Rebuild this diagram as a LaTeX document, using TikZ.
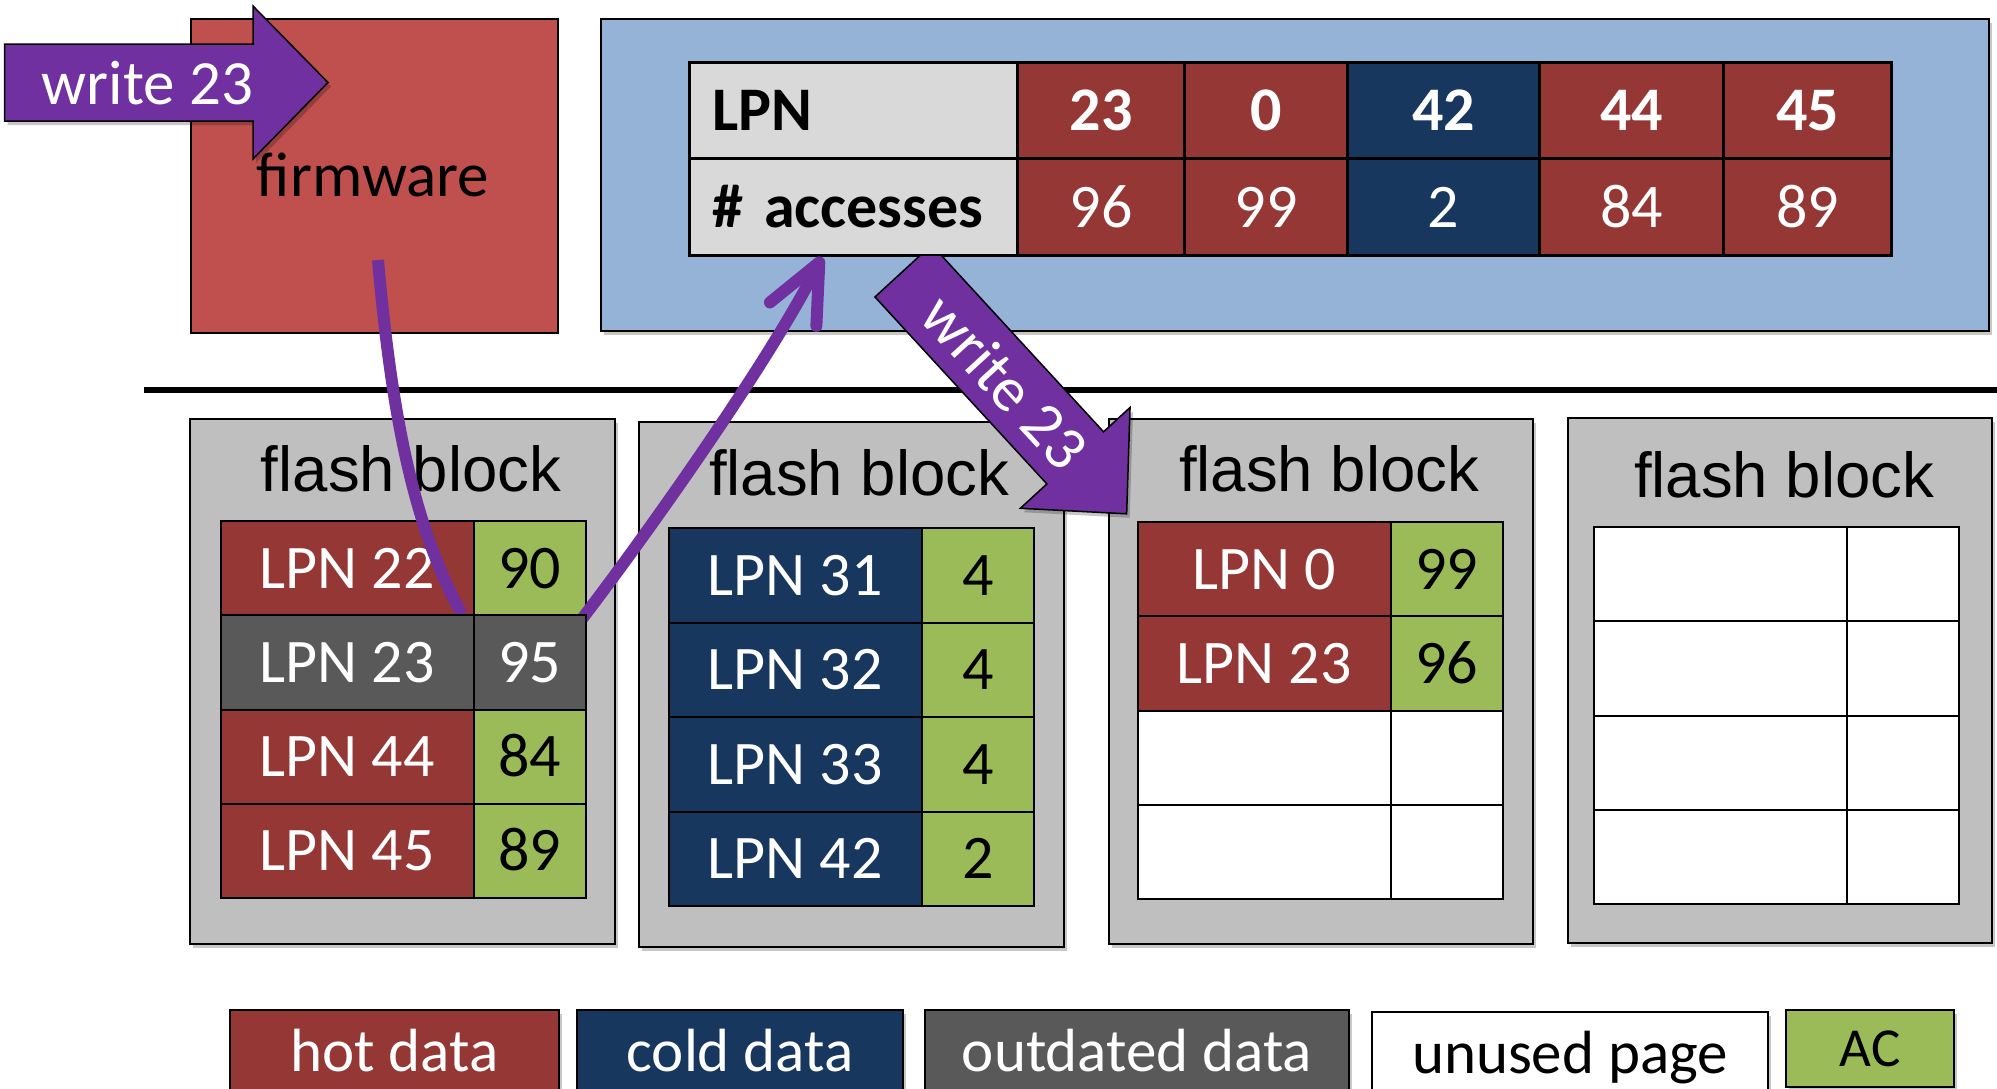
\documentclass[tikz,border=0pt]{standalone}
\usepackage{fontspec}
\setmainfont{Carlito}
\newfontfamily\arialf{Liberation Sans}
\usetikzlibrary{shadows,arrows.meta,calc}
\pgfdeclarelayer{front}
\pgfsetlayers{main,front}
\definecolor{fwred}{HTML}{C0504D}
\definecolor{lblue}{HTML}{95B3D7}
\definecolor{hgray}{HTML}{D9D9D9}
\definecolor{hot}{HTML}{953735}
\definecolor{cold}{HTML}{17375E}
\definecolor{old}{HTML}{595959}
\definecolor{acg}{HTML}{9BBB59}
\definecolor{fbg}{HTML}{BFBFBF}
\definecolor{purp}{HTML}{7030A0}
\newcommand\fsBig{\fontsize{63}{70}\selectfont}
\newcommand\fsCell{\fontsize{62}{70}\selectfont}
\newcommand\fsLeg{\fontsize{61}{70}\selectfont}
\newcommand\fsFlash{\arialf\fontsize{63.5}{70}\selectfont}
\tikzset{
  shad/.style={drop shadow={shadow xshift=3pt,shadow yshift=-4pt,opacity=0.22,fill=black}},
  bigbox/.style={draw=black,line width=2pt,anchor=north west,inner sep=0pt},
  fblock/.style={bigbox,fill=fbg,minimum width=425pt,minimum height=525pt,shad},
  flabel/.style={anchor=base,font=\fsFlash},
  cell/.style={draw=black,line width=2pt,anchor=north west,inner sep=0pt,
    minimum height=94.25pt,text height=40pt,text depth=0pt,font=\fsCell},
  lpn/.style={cell,minimum width=252.5pt,text=white},
  acc/.style={cell,minimum width=112.5pt,fill=acg,text=black},
  emptyl/.style={cell,minimum width=252.5pt,fill=white},
  emptya/.style={cell,minimum width=112.5pt,fill=white},
  thead/.style={draw=black,line width=3pt,anchor=north west,fill=hgray,
    minimum width=328pt,text width=282pt,inner xsep=23pt,inner ysep=0pt,
    align=left,text height=40pt,text depth=0pt,font=\fsCell\bfseries},
  tnum/.style={draw=black,line width=3pt,anchor=north west,inner sep=0pt,
    text=white,text height=40pt,text depth=0pt,font=\fsCell},
  legbox/.style={draw=black,line width=2pt,anchor=north west,inner sep=0pt,
    minimum height=81pt,text height=42pt,text depth=0pt,font=\fsLeg,shad},
  arrowbody/.style={fill=purp,draw=black,line width=1.5pt},
  purpline/.style={draw=purp,line width=12pt},
}
\begin{document}
\begin{tikzpicture}[x=1pt,y=-1pt]
\useasboundingbox (0,0) rectangle (1997,1088);
\clip (0,0) rectangle (1997,1088);
\fill[white] (0,0) rectangle (1997,1088);

% firmware box
\node[bigbox,fill=fwred,minimum width=367pt,minimum height=314pt] (fw) at (190,18) {};
\node[anchor=base,font=\fsBig] (fwl) at (373,196) {firmware};

% memory box
\node[bigbox,fill=lblue,minimum width=1388pt,minimum height=312pt,shad] (mem) at (600,18) {};

% table
\node[thead,minimum height=96pt] (hl) at (688,61) {LPN};
\node[thead,minimum height=97pt] (ha) at (688,157) {\# accesses};
\node[tnum,fill=hot,minimum width=167pt,minimum height=96pt,font=\fsCell\bfseries] (t1a) at (1016,61) {23};
\node[tnum,fill=hot,minimum width=163pt,minimum height=96pt,font=\fsCell\bfseries] (t2a) at (1183,61) {0};
\node[tnum,fill=cold,minimum width=192pt,minimum height=96pt,font=\fsCell\bfseries] (t3a) at (1346,61) {42};
\node[tnum,fill=hot,minimum width=184pt,minimum height=96pt,font=\fsCell\bfseries] (t4a) at (1538,61) {44};
\node[tnum,fill=hot,minimum width=168pt,minimum height=96pt,font=\fsCell\bfseries] (t5a) at (1722,61) {45};
\node[tnum,fill=hot,minimum width=167pt,minimum height=97pt] (t1b) at (1016,157) {96};
\node[tnum,fill=hot,minimum width=163pt,minimum height=97pt] (t2b) at (1183,157) {99};
\node[tnum,fill=cold,minimum width=192pt,minimum height=97pt] (t3b) at (1346,157) {2};
\node[tnum,fill=hot,minimum width=184pt,minimum height=97pt] (t4b) at (1538,157) {84};
\node[tnum,fill=hot,minimum width=168pt,minimum height=97pt] (t5b) at (1722,157) {89};

% horizontal write arrow
\filldraw[arrowbody,shad] (4.6,44) -- (253,44) -- (253,6) -- (328,82.5) -- (253,159) -- (253,121) -- (4.6,121) -- cycle;
\node[anchor=base,text=white,font=\fsBig] (w1) at (147.5,104) {write 23};

% separator line
\coordinate (sepL) at (144,390);
\coordinate (sepR) at (1997,390);
\draw[line width=6pt] (sepL) -- (sepR);

% flash blocks
\node[fblock] (b1) at (189,418) {};
\node[fblock] (b2) at (638,421) {};
\node[fblock,minimum width=424pt] (b3) at (1108,418) {};
\node[fblock,minimum width=424pt] (b4) at (1567,417) {};
\node[flabel] (b1l) at (411,491) {flash block};
\node[flabel] (b2l) at (859,495) {flash block};
\node[flabel] (b3l) at (1329,491) {flash block};
\node[flabel] (b4l) at (1784,497) {flash block};

% block 1
\node[lpn,fill=hot] (c1a) at (220,520) {LPN 22};
\node[acc] (c1av) at (472.5,520) {90};
\begin{pgfonlayer}{front}
\node[lpn,fill=old] (c1b) at (220,614.25) {LPN 23};
\node[acc,fill=old,text=white] (c1bv) at (472.5,614.25) {95};
\end{pgfonlayer}
\node[lpn,fill=hot] (c1c) at (220,708.5) {LPN 44};
\node[acc] (c1cv) at (472.5,708.5) {84};
\node[lpn,fill=hot] (c1d) at (220,802.75) {LPN 45};
\node[acc] (c1dv) at (472.5,802.75) {89};

% block 2
\node[lpn,fill=cold,minimum height=94.5pt] (c2a) at (668,527) {LPN 31};
\node[acc,minimum height=94.5pt] (c2av) at (920.5,527) {4};
\node[lpn,fill=cold,minimum height=94.5pt] (c2b) at (668,621.5) {LPN 32};
\node[acc,minimum height=94.5pt] (c2bv) at (920.5,621.5) {4};
\node[lpn,fill=cold,minimum height=94.5pt] (c2c) at (668,716) {LPN 33};
\node[acc,minimum height=94.5pt] (c2cv) at (920.5,716) {4};
\node[lpn,fill=cold,minimum height=94.5pt] (c2d) at (668,810.5) {LPN 42};
\node[acc,minimum height=94.5pt] (c2dv) at (920.5,810.5) {2};

% block 3
\node[lpn,fill=hot] (c3a) at (1137,521) {LPN 0};
\node[acc] (c3av) at (1389.5,521) {99};
\node[lpn,fill=hot] (c3b) at (1137,615.25) {LPN 23};
\node[acc] (c3bv) at (1389.5,615.25) {96};
\node[emptyl] (c3c) at (1137,709.5) {};
\node[emptya] (c3cv) at (1389.5,709.5) {};
\node[emptyl] (c3d) at (1137,803.75) {};
\node[emptya] (c3dv) at (1389.5,803.75) {};

% block 4
\node[emptyl] (c4a) at (1593,526) {};
\node[emptya] (c4av) at (1845.5,526) {};
\node[emptyl] (c4b) at (1593,620.25) {};
\node[emptya] (c4bv) at (1845.5,620.25) {};
\node[emptyl] (c4c) at (1593,714.5) {};
\node[emptya] (c4cv) at (1845.5,714.5) {};
\node[emptyl] (c4d) at (1593,808.75) {};
\node[emptya] (c4dv) at (1845.5,808.75) {};

% purple connectors
\coordinate (l1s) at (378,260);
\draw[purpline] (l1s) .. controls (392,420) and (415,530) .. ($(c1b.north east)+(-12.5,0)$);
\draw[purpline,-{Straight Barb[length=58pt,width=52pt,round]}]
  ($(c1bv.north east)+(-6,6)$) .. controls (650,530) and (770,360) .. ($(ha.south west)+(134,0)$);

% diagonal block arrow (its upper end hidden by the table)
\begin{scope}
\clip (0,256) rectangle (1997,1088);
\begin{scope}[shift={(903.3,270.9)},rotate=-47.4]
\filldraw[arrowbody,shad] (0,-38.5) -- (254,-38.5) -- (254,-74.5) -- (330,0) -- (254,74.5) -- (254,38.5) -- (0,38.5) -- cycle;
\end{scope}
\end{scope}
\node[rotate=-47.4,text=white,font=\fsBig,inner sep=0pt] (w2) at (1004.9,381.3) {write 23};

% legend
\node[legbox,fill=hot,text=white,minimum width=329pt] (lh) at (229,1009) {hot data};
\node[legbox,fill=cold,text=white,minimum width=326pt] (lc) at (576,1009) {cold data};
\node[legbox,fill=old,text=white,minimum width=424pt] (lo) at (924,1009) {outdated data};
\node[legbox,fill=white,minimum width=396pt] (lu) at (1371,1011) {unused page};
\node[legbox,fill=acg,minimum width=168pt,minimum height=77pt,text height=36pt,font=\fontsize{55}{60}\selectfont] (la) at (1785,1009) {AC};
\end{tikzpicture}
\end{document}
